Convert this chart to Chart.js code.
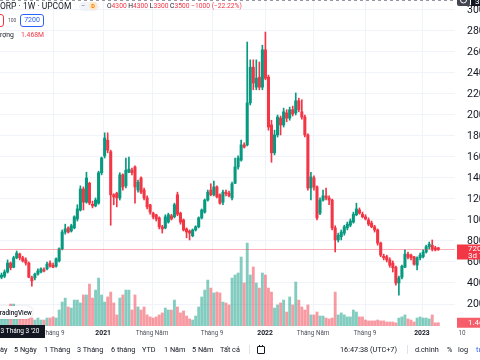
<!DOCTYPE html>
<html><head><meta charset="utf-8">
<script src="https://cdn.jsdelivr.net/npm/chart.js@4.4.0/dist/chart.umd.min.js"></script>
<style>
html,body{margin:0;padding:0;width:480px;height:360px;overflow:hidden;background:#fff;font-family:Roboto,"Noto Sans",sans-serif;color:#131722;}
#wrap{position:absolute;left:0;top:0;width:520px;height:342px;}
.t{position:absolute;white-space:nowrap;line-height:1;}
.r{color:#f23645;}
.tb{position:absolute;top:346px;font-size:7.3px;white-space:nowrap;line-height:1;color:#131722;}
</style></head><body>
<div id="wrap"><canvas id="c" width="520" height="342"></canvas></div>

<div class="t" style="left:0;top:2px;font-size:8.5px;">ORP · 1W · UPCOM</div>
<div class="t" style="left:79px;top:1.5px;width:20px;height:9px;background:#f0f3fa;border-radius:5px;"></div>
<div class="t" style="left:81px;top:2.5px;font-size:7px;color:#6a6d78;">−</div>
<div class="t" style="left:89px;top:2px;width:8px;height:8px;border-radius:4px;background:#ffe6c4;color:#f57c00;font-size:5.5px;text-align:center;line-height:8px;font-weight:bold;">D</div>
<div class="t" style="left:107px;top:3px;font-size:6.7px;">O<span class="r">4300</span> H<span class="r">4300</span> L<span class="r">3300</span> C<span class="r">3500</span> <span class="r">−1000 (−22.22%)</span></div>

<div class="t" style="left:-7px;top:14px;width:9px;height:11px;border:1px solid #f23645;border-radius:3px;"></div>
<div class="t" style="left:8px;top:18px;font-size:5px;color:#50535e;">100</div>
<div class="t" style="left:20px;top:14px;width:22px;height:11px;border:1px solid #2962ff;border-radius:3px;color:#2962ff;font-size:7px;text-align:center;line-height:11px;">7200</div>

<div class="t" style="left:0;top:32px;font-size:6.8px;">rợng</div>
<div class="t r" style="left:21px;top:32px;font-size:6.8px;">1.468M</div>

<div class="t" style="left:-14px;top:306px;width:47px;height:13px;background:#fff;border-radius:7px;box-shadow:0 0 2px rgba(0,0,0,0.2);"></div>
<div class="t" style="left:-3.8px;top:309.5px;font-size:6.4px;font-weight:500;">TradingView</div>

<div class="tb" style="left:0;">ày</div>
<div class="tb" style="left:14px;">5 Ngày</div>
<div class="tb" style="left:44px;">1 Tháng</div>
<div class="tb" style="left:77px;">3 Tháng</div>
<div class="tb" style="left:111px;">6 tháng</div>
<div class="tb" style="left:142px;">YTD</div>
<div class="tb" style="left:164px;">1 Năm</div>
<div class="tb" style="left:192px;">5 Năm</div>
<div class="tb" style="left:220px;">Tất cả</div>
<div class="t" style="left:249px;top:345px;width:1px;height:9px;background:#e0e3eb;"></div>
<div class="t" style="left:257px;top:346px;width:6px;height:6px;border:1px solid #131722;border-radius:1px;"></div>
<div class="t" style="left:259px;top:344.5px;width:1px;height:2px;background:#131722;"></div>
<div class="t" style="left:262px;top:344.5px;width:1px;height:2px;background:#131722;"></div>
<div class="tb" style="left:340px;">16:47:38 (UTC+7)</div>
<div class="t" style="left:407px;top:345px;width:1px;height:9px;background:#e0e3eb;"></div>
<div class="tb" style="left:415px;">d.chinh</div>
<div class="tb" style="left:447px;">%</div>
<div class="tb" style="left:458px;">log</div>
<div class="tb" style="left:476px;color:#2962ff;">tự động</div>

<script>
// ---- data (weekly candles, VND) ----
const opens = [4550,4650,5050,5900,5500,6400,6750,6400,6200,5900,
4500,4500,4850,5050,5250,5350,5900,5700,5600,6100,
7250,8850,9250,8950,9250,10100,10950,12950,11700,13500,
11500,11350,11600,14500,16100,17600,16500,12400,12550,12100,
14300,13250,14550,14750,15050,12850,14000,12850,12100,11450,
10650,10500,10200,9350,9250,9800,10400,10300,12400,10650,
10000,9150,8950,8500,9050,9350,10200,10750,11900,12850,
12400,13150,12400,11700,12650,12550,12100,13500,15050,15700,
17150,17150,21150,24550,22650,23600,22650,26200,23600,19050,
16400,18100,19700,19050,20200,19700,20500,20200,21350,20300,
19800,18100,13050,14000,13150,10650,11900,12300,12100,11900,
9250,8100,8400,8750,9250,9500,9800,10500,10950,10550,
10300,10000,9700,9350,9050,7800,6550,6500,6200,5900,
5500,4000,4550,5500,6750,6650,6500,5700,6400,6500,
6950,7450,7600,7350,7350];
const highs = [4950,5250,6200,6000,6550,7050,6850,6550,6400,6000,
4650,4950,5350,5450,5450,6000,6100,5900,6400,7350,
9050,9600,9350,9600,10400,11450,13250,13150,14550,13600,
11800,12100,14650,16000,18300,18300,16650,12500,12650,14500,
14400,15900,16000,14950,15150,13800,14100,13050,12300,11500,
10750,10550,10300,9500,10500,10650,10550,11600,12650,10750,
10100,9250,9050,9150,9450,10300,11050,12000,12850,13450,
13700,13250,12500,12850,12850,12750,13600,15900,16100,17600,
17350,26950,25250,25250,25250,25050,26650,27900,23800,19500,
18550,20000,19900,20650,20500,20750,20850,22100,21600,21450,
20000,18200,14550,14200,13250,12100,12850,13050,12300,12000,
9450,8750,9050,9500,9800,10100,10750,11600,11150,10750,
10500,10200,9900,9500,9150,7900,6750,6650,6400,6100,
5600,4650,5700,7150,6950,6750,6550,6500,6850,7150,
7600,7900,8100,7500,7400];
const lows = [4400,4500,4950,5250,5450,6300,6200,6000,5700,4500,
3700,4300,4750,4950,5050,5250,5500,5450,5500,6000,
7150,8650,8750,8850,9150,9900,10850,10950,11600,11450,
11150,11250,11500,14300,15900,16400,9500,11450,11250,11900,
12850,13050,14500,14300,11600,12650,12500,11900,11050,10550,
10100,9900,9150,8750,9150,9700,10000,10200,10400,9600,
8950,8300,8100,8400,8950,9250,10100,10650,11800,12300,
12300,12100,11500,11450,12300,12200,11900,13450,14850,15600,
16850,17050,20950,22400,22400,22400,22400,23350,18550,15500,
16200,17900,18100,18850,19350,19500,19900,20000,20300,19600,
17900,12850,11900,12850,10000,10500,11800,11900,11450,9050,
6950,7900,8100,8550,9050,9350,9700,10400,10550,10200,
10000,9450,9250,8850,7600,6500,6200,6000,5500,5050,
3800,2850,4400,5450,6300,6200,5700,5250,6200,6400,
6850,7250,7050,7050,7100];
const closes = [4750,5050,5900,5450,6400,6850,6400,6100,5900,4550,
4200,4850,5150,5350,5150,5800,5600,5500,6300,7250,
8850,9150,8850,9450,10300,11050,12950,11700,14000,11600,
11350,11900,14500,15900,17800,16650,12400,12200,12100,14300,
13150,14750,14850,14500,13150,13600,12650,12100,11250,10750,
10300,10100,9350,9150,10300,10500,10100,11450,10550,9800,
9050,8850,8750,9050,9350,10200,10950,11900,12650,12400,
13150,12200,11600,12650,12500,12300,13450,15050,15900,17150,
16950,21150,24550,23050,23500,22650,26200,23500,18850,16400,
18100,19800,19050,20300,19700,20500,20100,21350,20500,19800,
18100,13050,14100,13150,10200,11900,12300,12100,11900,9250,
8100,8550,8850,9350,9600,9900,10550,11050,10650,10300,
10100,9600,9350,9050,7800,6650,6400,6200,5700,5450,
4000,4500,5600,6750,6450,6400,5800,6400,6650,6950,
7450,7700,7250,7150,7200];
// volume, million shares
const volumes = [3.6,5.0,7.2,9.9,9.9,6.3,5.4,4.5,3.6,4.5,
3.6,2.7,3.6,2.7,2.7,3.6,3.6,4.1,3.6,7.2,
10.8,12.6,8.6,8.1,11.7,11.7,10.4,14.0,14.0,18.9,
12.6,16.2,21.6,14.0,10.8,13.1,15.3,10.4,5.0,12.6,
14.0,16.2,16.2,7.2,14.0,8.6,7.2,8.6,5.0,4.1,
3.6,4.1,5.0,5.9,8.1,7.2,7.2,11.7,8.6,5.9,
6.8,4.5,3.2,2.7,4.5,8.6,13.1,16.2,20.7,17.1,
14.9,15.3,14.9,10.8,10.4,9.5,21.6,23.0,23.9,31.1,
19.4,37.4,23.0,26.6,19.4,17.1,23.9,23.0,17.1,15.3,
8.1,9.5,10.4,11.7,6.3,13.1,9.5,19.8,11.7,8.6,
7.2,9.5,5.0,5.0,6.3,4.5,4.5,3.6,3.2,3.6,
15.3,5.0,5.9,5.0,4.1,4.1,7.2,6.3,4.1,4.1,
2.7,2.3,2.3,2.3,2.7,2.3,2.3,1.8,1.8,1.8,
1.4,3.6,4.1,5.0,3.2,2.7,1.8,3.6,4.1,3.6,
3.6,3.2,5.0,1.4,1.468];
const priceTicks = [2000,4000,6000,8000,10000,12000,14000,16000,18000,20000,22000,24000,26000,28000,30000];
const xTickLabels = ['Tháng 9','2021','Tháng Năm','Tháng 9','2022','Tháng Năm','Tháng 9','2023','10'];
const xTickPos = [17, 33.5, 49.6, 69.4, 86.9, 102.7, 119.8, 138.6, 151.8];
const lastPrice = 7200;
const lastVolumeText = '1.468M';
const crossTimeText = "3 Tháng 3 '20";
const crossPriceText = '30950';

// weekly categories (incl. empty right margin)
const categories = [];
(function(){ const d0 = Date.UTC(2020,4,18); for(let i=0;i<150;i++){ categories.push(new Date(d0 + i*7*864e5).toISOString().slice(0,10)); } })();

const UP='#089981', DN='#f23645';
const upDown = closes.map((c,i)=> c>=opens[i]);
const bodyColors = upDown.map(u=>u?UP:DN);
const volColors = upDown.map(u=>u?'rgba(8,153,129,0.5)':'rgba(242,54,69,0.5)');

const overlay = {
  id:'overlay',
  beforeDatasetsDraw(chart){
    const {ctx, chartArea:a, scales:{x}} = chart;
    ctx.save(); ctx.strokeStyle='#f0f3fa'; ctx.lineWidth=1;
    for(let k=0;k<xTickPos.length-1;k++){
      const px=Math.round(x.getPixelForValue(xTickPos[k]))+0.5;
      ctx.beginPath(); ctx.moveTo(px,a.top); ctx.lineTo(px,a.bottom); ctx.stroke();
    }
    ctx.restore();
  },
  afterDraw(chart){
    const {ctx, chartArea:a, scales:{x,y,v}} = chart;
    ctx.save();
    const py = Math.round(y.getPixelForValue(lastPrice))+0.5;
    ctx.strokeStyle='rgba(242,54,69,0.4)'; ctx.lineWidth=1;
    ctx.beginPath(); ctx.moveTo(a.left,py); ctx.lineTo(a.right,py); ctx.stroke();
    ctx.strokeStyle='#9598a1'; ctx.setLineDash([3,3]);
    ctx.beginPath(); ctx.moveTo(a.left,0.5); ctx.lineTo(a.right,0.5); ctx.stroke();
    ctx.setLineDash([]);
    // time axis labels
    ctx.textAlign='center'; ctx.textBaseline='middle';
    xTickLabels.forEach((t,k)=>{
      const bold=/^\d{4}$/.test(t);
      ctx.font=(bold?'bold 6.8px ':'6.3px ')+'Roboto';
      ctx.fillStyle=bold?'#131722':'#50535e';
      ctx.fillText(t, x.getPixelForValue(xTickPos[k]), 333);
    });
    // crosshair time label
    ctx.fillStyle='#131722'; ctx.fillRect(-4,325,49,13);
    ctx.fillStyle='#fff'; ctx.textAlign='left'; ctx.font='6.5px Roboto';
    ctx.fillText(crossTimeText, 0.5, 331.5);
    // last price tag
    ctx.fillStyle=DN; ctx.fillRect(a.right+2, py-5, 70, 15);
    ctx.fillStyle='#fff'; ctx.font='8px Roboto';
    ctx.fillText(String(lastPrice), a.right+13, py-0.5);
    ctx.fillText('3d 7h', a.right+13, py+6.5);
    // volume tag
    const vy = v.getPixelForValue(volumes[volumes.length-1]);
    ctx.fillStyle='rgba(242,54,69,0.8)'; ctx.fillRect(a.right+2, vy-5, 70, 10);
    ctx.fillStyle='#fff'; ctx.fillText(lastVolumeText, a.right+13, vy);
    // crosshair price label (top right)
    ctx.fillStyle='#434651'; ctx.beginPath(); ctx.roundRect(a.right+2,-7,13,13,2); ctx.fill();
    ctx.strokeStyle='#fff'; ctx.beginPath(); ctx.arc(a.right+8.5,0,3,0,Math.PI*2); ctx.stroke();
    ctx.fillStyle='#131722'; ctx.fillRect(a.right+16,-7,60,13);
    ctx.fillStyle='#fff'; ctx.fillText(crossPriceText, a.right+20, 1.5);
    ctx.restore();
  }
};

Chart.defaults.font.family='Roboto';
new Chart(document.getElementById('c'), {
  type:'bar',
  data:{
    labels: categories,
    datasets:[
      { label:'body', data: opens.map((o,i)=>[o, closes[i]]), backgroundColor: bodyColors, barThickness:2.4, minBarLength:1, grouped:false, yAxisID:'y', order:1, borderWidth:0 },
      { label:'wick', data: lows.map((l,i)=>[l, highs[i]]), backgroundColor: bodyColors, barThickness:1, grouped:false, yAxisID:'y', order:2, borderWidth:0 },
      { label:'vol', data: volumes, backgroundColor: volColors, barThickness:2.2, grouped:false, yAxisID:'v', order:3, borderWidth:0 }
    ]
  },
  options:{
    responsive:false, animation:false,
    layout:{ padding:{ top:0, left:0, right:0, bottom:16 } },
    plugins:{ legend:{display:false}, tooltip:{enabled:false} },
    scales:{
      x:{ type:'category', display:false, offset:true },
      y:{ position:'right', min:-95, max:30950,
          afterBuildTicks:s=>{ s.ticks = priceTicks.map(val=>({value:val})); },
          afterFit:s=>{ s.width=65; s.paddingTop=0; s.paddingBottom=0; },
          grid:{ color:'#f0f3fa', drawTicks:false }, border:{display:false},
          ticks:{ padding:12, color:'#131722', font:{size:10.5}, callback:val=>String(val) } },
      v:{ display:false, min:0, max:147 }
    }
  },
  plugins:[overlay]
});
</script>
</body></html>
